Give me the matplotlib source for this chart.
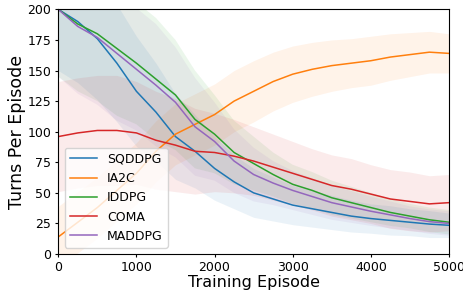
#!/usr/bin/env python3

import numpy as np
import matplotlib
matplotlib.use('Agg')
import matplotlib.pyplot as plt

# Episodios de muestreo (cada 250)
EPISODES = [0, 250, 500, 750, 1000, 1250, 1500, 1750, 2000, 2250, 2500,
            2750, 3000, 3250, 3500, 3750, 4000, 4250, 4500, 4750, 5000]

SQDDPG = [200, 190, 176, 156, 133, 116, 96, 84, 70, 59, 50,
          45, 40, 37, 34, 31, 29, 27.5, 26, 24.5, 23.5]
IA2C = [14, 26, 38, 52, 66, 84, 98, 106, 114, 125, 133,
        141, 147, 151, 154, 156, 158, 161, 163, 165, 164]
IDDPG = [200, 188, 180, 168, 156, 143, 130, 110, 98, 83, 74,
         65, 57, 52, 46, 42, 38, 34, 31, 28, 26]
COMA = [96, 99, 101, 101, 99, 93, 89, 84, 83, 80, 76,
        71, 66, 61, 56, 53, 49, 45, 43, 41, 42]
MADDPG = [200, 186, 177, 164, 151, 138, 124, 104, 92, 76, 65,
          58, 52, 47, 42, 38.5, 35, 32, 29, 26.5, 25]

# Semi-ancho de la banda de desviacion
SQDDPG_SD = [50, 50, 50, 48, 45, 40, 35, 30, 26, 22, 20,
             18, 16, 15, 14, 13, 12, 12, 11, 11, 10]
IA2C_SD = [25, 25, 25, 25, 25, 25, 25, 25, 25, 25, 25,
           24, 23, 22, 21, 20, 20, 19, 18, 17, 16]
IDDPG_SD = [55, 55, 55, 55, 50, 50, 45, 40, 32, 26, 22,
            18, 16, 15, 14, 13, 12, 11, 10, 10, 10]
COMA_SD = [45, 45, 45, 45, 42, 40, 38, 35, 32, 30, 28,
           27, 26, 25, 25, 25, 24, 24, 24, 23, 23]
MADDPG_SD = [55, 55, 55, 55, 50, 50, 45, 40, 32, 26, 22,
             18, 16, 15, 14, 13, 12, 11, 10, 10, 10]

SERIES = [
    ("SQDDPG", SQDDPG, SQDDPG_SD, "tab:blue"),
    ("IA2C", IA2C, IA2C_SD, "tab:orange"),
    ("IDDPG", IDDPG, IDDPG_SD, "tab:green"),
    ("COMA", COMA, COMA_SD, "tab:red"),
    ("MADDPG", MADDPG, MADDPG_SD, "tab:purple"),
]

fig = plt.figure(figsize=(4.64, 2.92), dpi=100)
ax = fig.add_axes([0.1256, 0.130, 0.842, 0.838])

x = np.array(EPISODES)
for name, mean, sd, color in SERIES:
    m = np.array(mean, dtype=float)
    s = np.array(sd, dtype=float)
    ax.fill_between(x, m - s, m + s, color=color, alpha=0.09, linewidth=0)
for name, mean, sd, color in SERIES:
    ax.plot(x, mean, color=color, linewidth=1.1, label=name)

ax.set_xlim(0, 5000)
ax.set_ylim(0, 200)
ax.set_xticks([0, 1000, 2000, 3000, 4000, 5000])
ax.set_yticks([0, 25, 50, 75, 100, 125, 150, 175, 200])
ax.tick_params(axis='both', labelsize=9, length=2.5, pad=2.5)
ax.set_xlabel('Training Episode', fontsize=11.5, labelpad=1)
ax.set_ylabel('Turns Per Episode', fontsize=12.5, labelpad=1)
ax.legend(loc='lower left', fontsize=9, handlelength=2.2)

fig.savefig('out.png', dpi=100)
plt.close(fig)
